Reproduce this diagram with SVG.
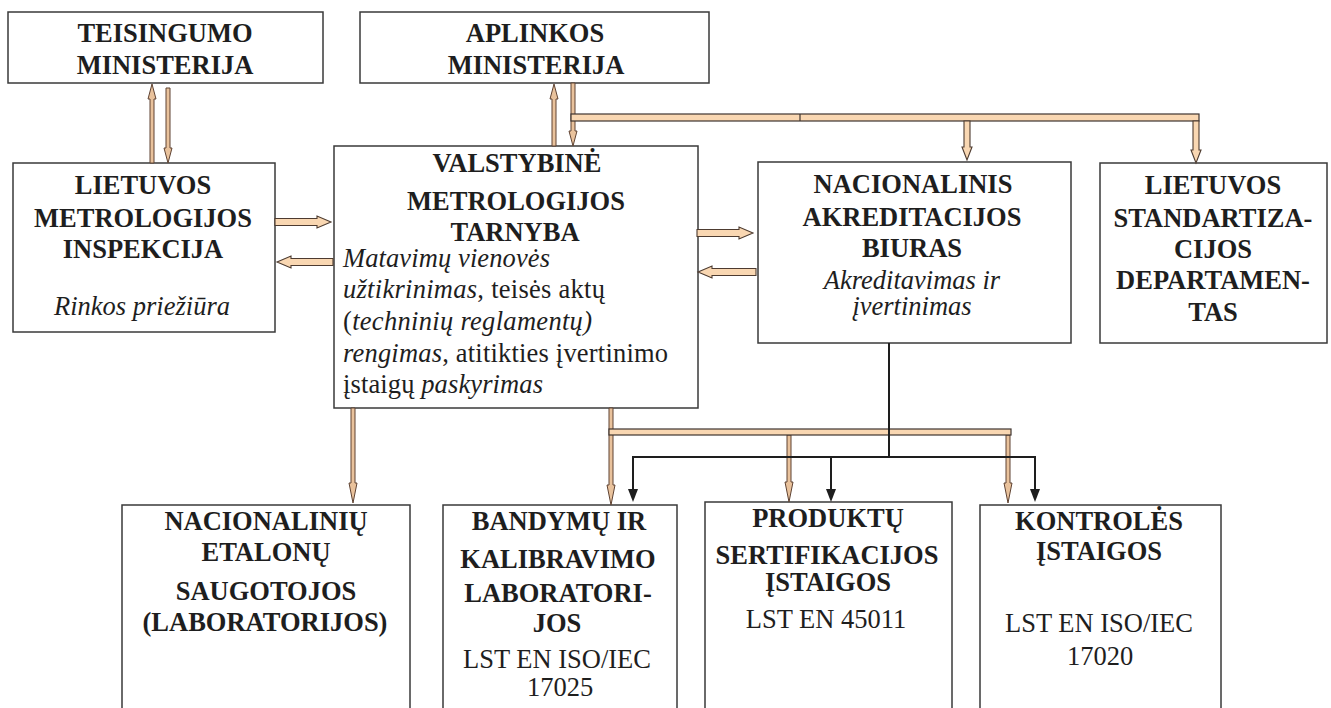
<svg xmlns="http://www.w3.org/2000/svg" width="1331" height="708" viewBox="0 0 1331 708" font-family="'Liberation Serif', 'Times New Roman', 'DejaVu Serif', serif">
<style>
.box{fill:#fff;stroke:#3a3a3a;stroke-width:1.5}
text{font-family:'Liberation Serif','Times New Roman','DejaVu Serif',serif;font-size:26.5px;fill:#1e1e1e}
.h{font-weight:bold;text-anchor:middle}
.c{text-anchor:middle}
.i{font-style:italic}
.thin{fill:#e9c29c;stroke:#5f4333;stroke-width:1}
.blk{fill:#f9d7b2;stroke:#4d3b30;stroke-width:1.1}
.bar{fill:#f9d7b2;stroke:#3e3430;stroke-width:1.2}
.ln{fill:none;stroke:#1e1e1e;stroke-width:2}
.hd{fill:#1e1e1e}
</style>
<rect width="1331" height="708" fill="#fff"/>

<g id="teisingumo">
<rect class="box" x="8" y="12" width="315" height="71"/>
<text class="h" x="165" y="42">TEISINGUMO</text>
<text class="h" x="165" y="74">MINISTERIJA</text>
</g>

<g id="aplinkos">
<rect class="box" x="360" y="12" width="349" height="71"/>
<text class="h" x="535" y="42">APLINKOS</text>
<text class="h" x="536" y="74">MINISTERIJA</text>
</g>

<g id="lmi">
<rect class="box" x="13" y="163" width="262" height="169"/>
<text class="h" x="143" y="194">LIETUVOS</text>
<text class="h" x="143" y="227">METROLOGIJOS</text>
<text class="h" x="143" y="258">INSPEKCIJA</text>
<text class="c i" x="142" y="315">Rinkos priežiūra</text>
</g>

<g id="vmt">
<rect class="box" x="334" y="146" width="364" height="262"/>
<text class="h" x="517" y="172">VALSTYBINĖ</text>
<text class="h" x="516" y="210">METROLOGIJOS</text>
<text class="h" x="515" y="241">TARNYBA</text>
<text x="343" y="267" textLength="207"><tspan class="i">Matavimų vienovės</tspan></text>
<text x="343" y="298" textLength="262"><tspan class="i">užtikrinimas</tspan>, teisės aktų</text>
<text x="343" y="330" textLength="249">(<tspan class="i">techninių reglamentų)</tspan></text>
<text x="343" y="362" textLength="325"><tspan class="i">rengimas</tspan>, atitikties įvertinimo</text>
<text x="343" y="393" textLength="200">įstaigų <tspan class="i">paskyrimas</tspan></text>
</g>

<g id="nab">
<rect class="box" x="758" y="162" width="313" height="181"/>
<text class="h" x="913" y="193">NACIONALINIS</text>
<text class="h" x="912" y="226">AKREDITACIJOS</text>
<text class="h" x="912" y="257">BIURAS</text>
<text class="c i" x="912" y="289">Akreditavimas ir</text>
<text class="c i" x="912" y="315">įvertinimas</text>
</g>

<g id="lsd">
<rect class="box" x="1100" y="163" width="227" height="180"/>
<text class="h" x="1213" y="194">LIETUVOS</text>
<text class="h" x="1213" y="227">STANDARTIZA-</text>
<text class="h" x="1213" y="258">CIJOS</text>
<text class="h" x="1213" y="289">DEPARTAMEN-</text>
<text class="h" x="1213" y="321">TAS</text>
</g>

<g id="etalonu">
<rect class="box" x="122" y="505" width="288" height="220"/>
<text class="h" x="266" y="530">NACIONALINIŲ</text>
<text class="h" x="266" y="561">ETALONŲ</text>
<text class="h" x="266" y="600">SAUGOTOJOS</text>
<text class="h" x="265" y="631">(LABORATORIJOS)</text>
</g>

<g id="bandymu">
<rect class="box" x="443" y="505" width="234" height="220"/>
<text class="h" x="559" y="530">BANDYMŲ IR</text>
<text class="h" x="558" y="568">KALIBRAVIMO</text>
<text class="h" x="558" y="602">LABORATORI-</text>
<text class="h" x="557" y="632">JOS</text>
<text class="c" x="557" y="668">LST EN ISO/IEC</text>
<text class="c" x="560" y="696">17025</text>
</g>

<g id="produktu">
<rect class="box" x="705" y="502" width="247" height="223"/>
<text class="h" x="828" y="527">PRODUKTŲ</text>
<text class="h" x="827" y="564">SERTIFIKACIJOS</text>
<text class="h" x="828" y="591">ĮSTAIGOS</text>
<text class="c" x="826" y="628">LST EN 45011</text>
</g>

<g id="kontroles">
<rect class="box" x="980" y="505" width="241" height="220"/>
<text class="h" x="1099" y="530">KONTROLĖS</text>
<text class="h" x="1099" y="560">ĮSTAIGOS</text>
<text class="c" x="1099" y="632">LST EN ISO/IEC</text>
<text class="c" x="1100" y="665">17020</text>
</g>

<g id="connectors">
<path class="thin" d="M150,163 V99 H148 L152,84 L156,99 H154 V163 Z"/>
<path class="thin" d="M166,88 V148 H164 L168,163 L172,148 H170 V88 Z"/>
<path class="thin" d="M552,146 V99 H550 L554,84 L558,99 H556 V146 Z"/>
<path class="thin" d="M571,83 V131 H569 L573,146 L577,131 H575 V83 Z"/>
<path class="thin" d="M351,408 V483 H349 L353,503 L357,483 H355 V408 Z"/>
<path class="thin" d="M609,408 V485 H607 L611,505 L615,485 H613 V408 Z"/>
<path class="thin" d="M787,435 V482 H785 L789,502 L793,482 H791 V435 Z"/>
<path class="thin" d="M1006,435 V483 H1004 L1008,503 L1012,483 H1010 V435 Z"/>
<rect class="bar" x="571" y="114" width="628" height="7"/>
<line x1="800" y1="114" x2="800" y2="121" stroke="#3e3430" stroke-width="1.2"/>
<path class="blk" d="M964,121 V147 H962 L967,160 L972,147 H970 V121 Z"/>
<path class="blk" d="M1193,121 V150 H1191 L1196,163 L1201,150 H1199 V121 Z"/>
<path class="blk" d="M275,218.5 H317 V216 L331,222 L317,228 V225.5 H275 Z"/>
<path class="blk" d="M333,258.5 H291 V256 L277,262 L291,268 V265.5 H333 Z"/>
<path class="blk" d="M697,229.5 H739 V227 L753,233 L739,239 V236.5 H697 Z"/>
<path class="blk" d="M756,268.5 H712 V266 L698,272 L712,278 V275.5 H756 Z"/>
<rect class="bar" x="609" y="429" width="402" height="6"/>
<line class="ln" x1="889" y1="343" x2="889" y2="457"/>
<line class="ln" x1="633" y1="457" x2="1036" y2="457"/>
<line class="ln" x1="633" y1="456" x2="633" y2="490"/>
<line class="ln" x1="831" y1="457" x2="831" y2="490"/>
<line class="ln" x1="1035" y1="456" x2="1035" y2="490"/>
<path class="hd" d="M628,489 H638 L633,502 Z"/>
<path class="hd" d="M826,489 H836 L831,502 Z"/>
<path class="hd" d="M1030,489 H1040 L1035,502 Z"/>
</g>
</svg>
